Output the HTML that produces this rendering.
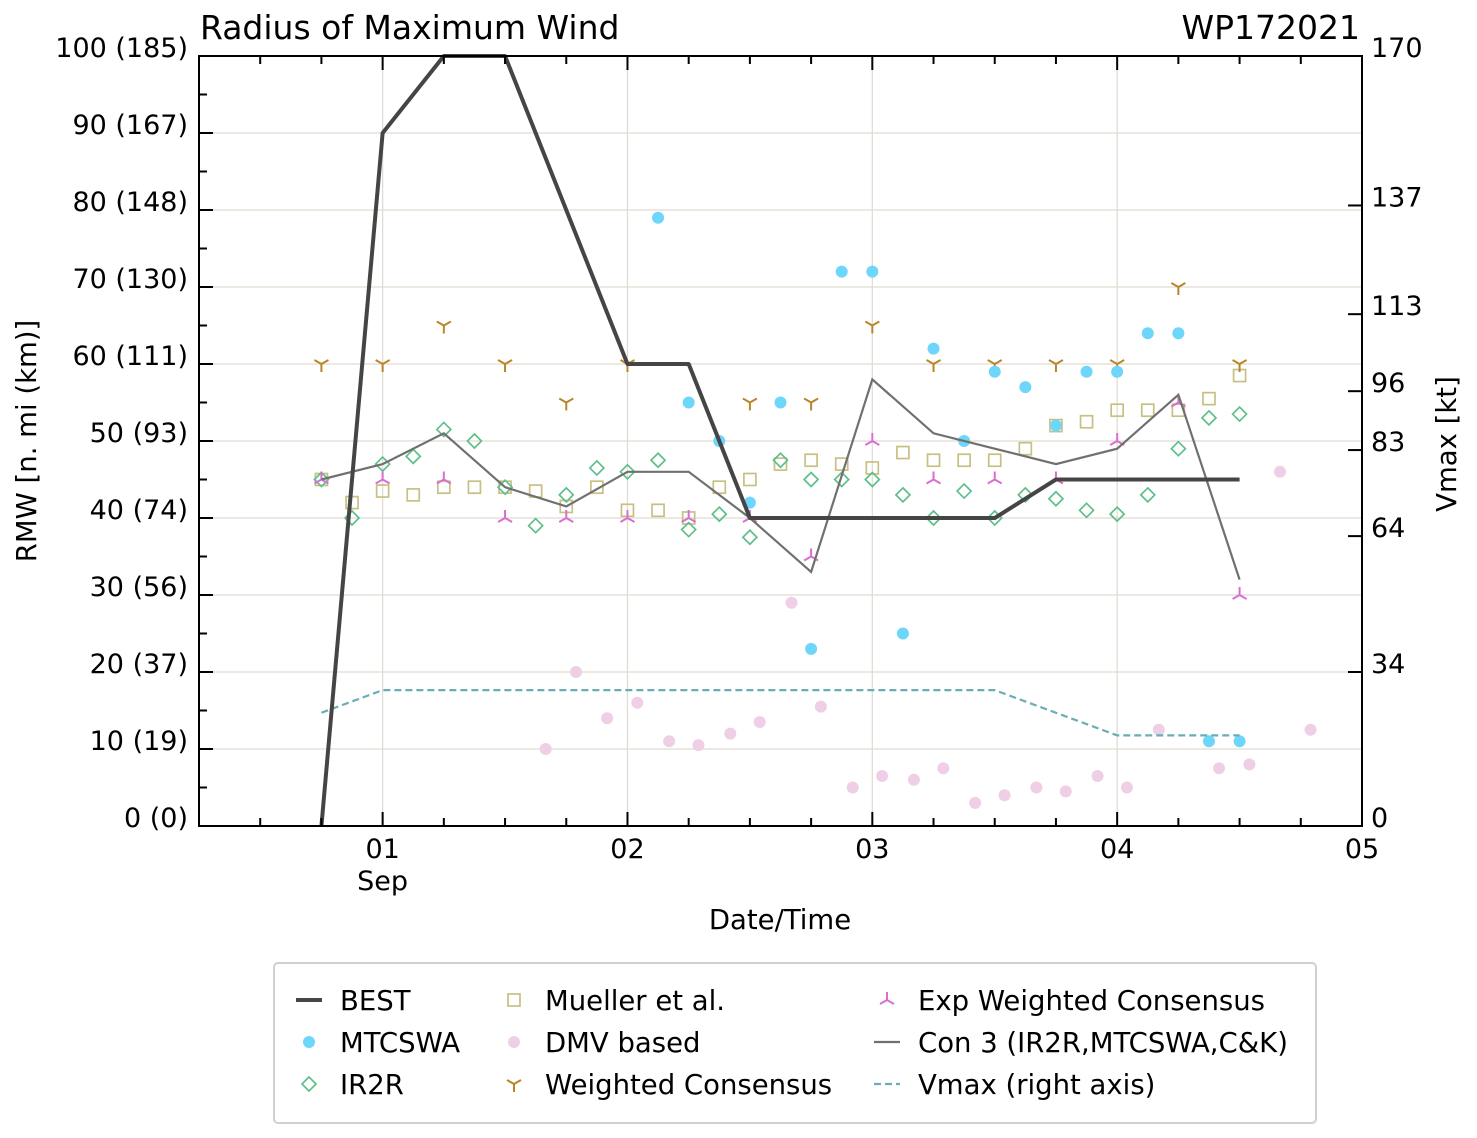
<!DOCTYPE html>
<html><head><meta charset="utf-8">
<style>
html,body{margin:0;padding:0;background:#fff;}
svg{display:block;font-family:"DejaVu Sans","Liberation Sans",sans-serif;}
</style></head>
<body>
<svg id="chart" width="1477" height="1138" viewBox="0 0 1477 1138" xmlns="http://www.w3.org/2000/svg">
<g id="grid"></g>
<g id="series"></g>
<g id="axes"></g>
<text x="200" y="39" font-size="33">Radius of Maximum Wind</text>
<text x="1360" y="39" font-size="33" text-anchor="end">WP172021</text>
<text x="780" y="929" font-size="27.5" text-anchor="middle">Date/Time</text>
<text transform="translate(36,441) rotate(-90)" font-size="27.5" text-anchor="middle">RMW [n. mi (km)]</text>
<text transform="translate(1456,444) rotate(-90)" font-size="27.5" text-anchor="middle">Vmax [kt]</text>
<g id="legend"></g>
</svg>
<script>
// ---- data (time in days since 01 Sep 00Z) ----
const bestT=[-0.25,0,0.25,0.5,1.0,1.25,1.5,2.5,2.75,3.5];
const bestV=[0,90,100,100,60,60,40,40,45,45];
const mtcT=[1.125,1.25,1.375,1.5,1.625,1.75,1.875,2.0,2.125,2.25,2.375,2.5,2.625,2.75,2.875,3.0,3.125,3.25,3.375,3.5];
const mtcV=[79,55,50,42,55,23,72,72,25,62,50,59,57,52,59,59,64,64,11,11];
const ir2rT=[-0.25,-0.125,0,0.125,0.25,0.375,0.5,0.625,0.75,0.875,1.0,1.125,1.25,1.375,1.5,1.625,1.75,1.875,2.0,2.125,2.25,2.375,2.5,2.625,2.75,2.875,3.0,3.125,3.25,3.375,3.5];
const ir2rV=[45,40,47,48,51.5,50,44,39,43,46.5,46,47.5,38.5,40.5,37.5,47.5,45,45,45,43,40,43.5,40,43,42.5,41,40.5,43,49,53,53.5];
const muelT=[-0.25,-0.125,0,0.125,0.25,0.375,0.5,0.625,0.75,0.875,1.0,1.125,1.25,1.375,1.5,1.625,1.75,1.875,2.0,2.125,2.25,2.375,2.5,2.625,2.75,2.875,3.0,3.125,3.25,3.375,3.5];
const muelV=[45,42,43.5,43,44,44,44,43.5,41.5,44,41,41,40,44,45,47,47.5,47,46.5,48.5,47.5,47.5,47.5,49,52,52.5,54,54,54,55.5,58.5];
const dmvT=[0.666,0.79,0.917,1.04,1.17,1.29,1.42,1.54,1.67,1.79,1.92,2.04,2.17,2.29,2.42,2.54,2.67,2.79,2.92,3.04,3.17,3.416,3.54,3.665,3.79];
const dmvV=[10,20,14,16,11,10.5,12,13.5,29,15.5,5,6.5,6,7.5,3,4,5,4.5,6.5,5,12.5,7.5,8,46,12.5];
const wcT=[-0.25,0,0.25,0.5,0.75,1.0,1.5,1.75,2.0,2.25,2.5,2.75,3.0,3.25,3.5];
const wcV=[60,60,65,60,55,60,55,55,65,60,60,60,60,70,60];
const ewcT=[-0.25,0,0.25,0.5,0.75,1.0,1.25,1.5,1.75,2.0,2.25,2.5,2.75,3.0,3.25,3.5];
const ewcV=[45,45,45,40,40,40,40,40,35,50,45,45,45,50,55,30];
const con3T=[-0.25,0,0.25,0.5,0.75,1.0,1.25,1.5,1.75,2.0,2.25,2.5,2.75,3.0,3.25,3.5];
const con3V=[45,47,51,44,41.5,46,46,40,33,58,51,49,47,49,56,32];
const vmaxT=[-0.25,0,2.5,3.0,3.5];
const vmaxV=[25,30,30,20,20];
const xTickLabels=["01","02","03","04","05"];
const yTickLabels=["0 (0)","10 (19)","20 (37)","30 (56)","40 (74)","50 (93)","60 (111)","70 (130)","80 (148)","90 (167)","100 (185)"];
const rTicks=[0,34,64,83,96,113,137,170];

// ---- scales ----
const L=199,R=1362,T=56,B=826;
const x=t=>L+(t+0.75)/4.75*(R-L);
const y=v=>B-v/100*(B-T);
const yr=v=>B-v/170*(B-T);
const NS="http://www.w3.org/2000/svg";
function mk(tag,attrs,parent){const e=document.createElementNS(NS,tag);for(const k in attrs)e.setAttribute(k,attrs[k]);parent.appendChild(e);return e;}
const grid=document.getElementById('grid'),ser=document.getElementById('series'),ax=document.getElementById('axes'),leg=document.getElementById('legend');

for(let d=0;d<=3;d++){const g=mk('line',{x1:x(d),x2:x(d),y1:T,y2:B,stroke:'#e0dbd0','stroke-width':1.2},grid);

}
for(let v=10;v<100;v+=10){const g=mk('line',{x1:L,x2:R,y1:y(v),y2:y(v),stroke:'#e0dbd0','stroke-width':1.2},grid);

}

function diamond(cx,cy,p){const s=7;return mk('polygon',{points:`${cx},${cy-s} ${cx+s},${cy} ${cx},${cy+s} ${cx-s},${cy}`,fill:'none',stroke:'#5fbf8a','stroke-width':1.7},p);}
function square(cx,cy,p){return mk('rect',{x:cx-6,y:cy-6,width:12,height:12,fill:'none',stroke:'#c8c083','stroke-width':1.7},p);}
function triDown(cx,cy,p,col){return mk('path',{d:`M${cx} ${cy}V${cy+8}M${cx} ${cy}L${cx-7} ${cy-4}M${cx} ${cy}L${cx+7} ${cy-4}`,stroke:col,'stroke-width':2,fill:'none'},p);}
function triUp(cx,cy,p,col){return mk('path',{d:`M${cx} ${cy}V${cy-8}M${cx} ${cy}L${cx-7} ${cy+4}M${cx} ${cy}L${cx+7} ${cy+4}`,stroke:col,'stroke-width':2,fill:'none'},p);}

dmvT.forEach((t,i)=>{const e=mk('circle',{cx:x(t),cy:y(dmvV[i]),r:6,fill:'#efcfe6'},ser);

});
muelT.forEach((t,i)=>{const e=square(x(t),y(muelV[i]),ser);

});
ir2rT.forEach((t,i)=>{const e=diamond(x(t),y(ir2rV[i]),ser);

});
wcT.forEach((t,i)=>{const e=triDown(x(t),y(wcV[i]),ser,'#b8862a');

});
ewcT.forEach((t,i)=>{const e=triUp(x(t),y(ewcV[i]),ser,'#d86fd0');

});
mtcT.forEach((t,i)=>{const e=mk('circle',{cx:x(t),cy:y(mtcV[i]),r:6,fill:'#6fd6fb'},ser);

});
const c3=mk('polyline',{points:con3T.map((t,i)=>x(t)+','+y(con3V[i])).join(' '),fill:'none',stroke:'#707070','stroke-width':2.2},ser);


const vm=mk('polyline',{points:vmaxT.map((t,i)=>x(t)+','+yr(vmaxV[i])).join(' '),fill:'none',stroke:'#6aaeb4','stroke-width':2.2,'stroke-dasharray':'7,4'},ser);


const bl=mk('polyline',{points:bestT.map((t,i)=>x(t)+','+y(bestV[i])).join(' '),fill:'none',stroke:'#454545','stroke-width':4,'stroke-linejoin':'round'},ser);



const fr=mk('rect',{x:L,y:T,width:R-L,height:B-T,fill:'none',stroke:'#000','stroke-width':2},ax);


for(let k=-3;k<=16;k++){const t=k*0.25;const major=(k%4===0);const len=major?14:8;
mk('line',{x1:x(t),x2:x(t),y1:B,y2:B-len,stroke:'#000','stroke-width':2},ax);
mk('line',{x1:x(t),x2:x(t),y1:T,y2:T+len,stroke:'#000','stroke-width':2},ax);}
xTickLabels.forEach((s,i)=>{const e=mk('text',{x:x(i),y:858,'font-size':27,'text-anchor':'middle'},ax);e.textContent=s;

});
const sep=mk('text',{x:x(0),y:890,'font-size':27,'text-anchor':'middle'},ax);sep.textContent='Sep';


for(let v=0;v<=100;v+=5){const major=v%10===0;const len=major?14:8;
mk('line',{x1:L,x2:L+len,y1:y(v),y2:y(v),stroke:'#000','stroke-width':2},ax);}
yTickLabels.forEach((s,i)=>{const e=mk('text',{x:188,y:y(i*10)+1,'font-size':27,'text-anchor':'end'},ax);e.textContent=s;

});
rTicks.forEach(v=>{mk('line',{x1:R-14,x2:R,y1:yr(v),y2:yr(v),stroke:'#000','stroke-width':2},ax);
const e=mk('text',{x:1371,y:yr(v)+1,'font-size':27},ax);e.textContent=String(v);

});

const box=mk('rect',{x:274,y:963,width:1042,height:160,rx:4,fill:'#fff',stroke:'#d0d0d0','stroke-width':2},leg);


const entries=[
 [0,0,'BEST','best'],[0,1,'MTCSWA','mtc'],[0,2,'IR2R','ir2r'],
 [1,0,'Mueller et al.','muel'],[1,1,'DMV based','dmv'],[1,2,'Weighted Consensus','wc'],
 [2,0,'Exp Weighted Consensus','ewc'],[2,1,'Con 3 (IR2R,MTCSWA,C&K)','con3'],[2,2,'Vmax (right axis)','vmax']];
const colX=[309,514,887];
entries.forEach(([c,r,label,k])=>{const cx=colX[c],cy=1000+r*42;
const g=mk('g',{},leg);


if(k==='best')mk('line',{x1:cx-13,x2:cx+13,y1:cy,y2:cy,stroke:'#454545','stroke-width':4},g);
if(k==='mtc')mk('circle',{cx:cx,cy:cy,r:6,fill:'#6fd6fb'},g);
if(k==='ir2r')diamond(cx,cy,g);
if(k==='muel')square(cx,cy,g);
if(k==='dmv')mk('circle',{cx:cx,cy:cy,r:6,fill:'#efcfe6'},g);
if(k==='wc')triDown(cx,cy,g,'#b8862a');
if(k==='ewc')triUp(cx,cy,g,'#d86fd0');
if(k==='con3')mk('line',{x1:cx-13,x2:cx+13,y1:cy,y2:cy,stroke:'#707070','stroke-width':2.2},g);
if(k==='vmax')mk('line',{x1:cx-13,x2:cx+13,y1:cy,y2:cy,stroke:'#6aaeb4','stroke-width':2.2,'stroke-dasharray':'7,4'},g);
const t=mk('text',{x:cx+31,y:cy+10,'font-size':27.5},g);t.textContent=label;});
</script>
</body></html>
